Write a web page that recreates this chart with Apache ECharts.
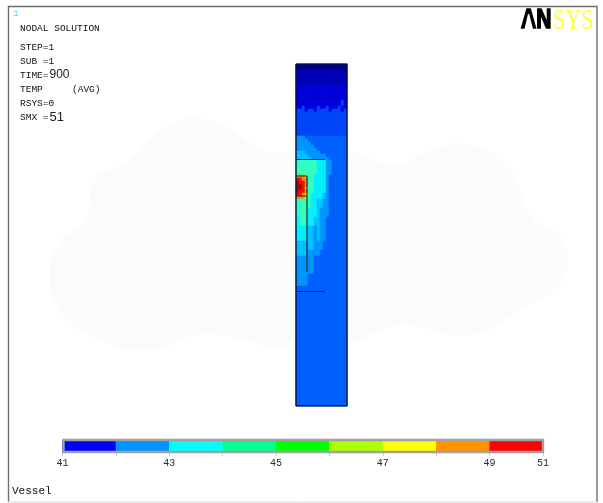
<!DOCTYPE html>
<html><head><meta charset="utf-8">
<style>html,body{margin:0;padding:0;background:#fff}#c{width:603px;height:503px;filter:blur(0.55px)}</style>
<script src="https://cdn.jsdelivr.net/npm/echarts@6/dist/echarts.min.js"></script>
</head><body><div id="c"></div>
<script>
// Temperature field: each row code string is 17 cells across the vessel; [repeat, cells]
const fieldRows = [
 [2,'aaaaaaaaaaaaaaaaa'],[5,'bbbbbbbbbbbbbbbbb'],[3,'ccccccccccccccccc'],
 [2,'ccccccbccccbccccc'],[2,'cccccccccccccccdc'],[1,'ccdccccdccdcccdcc'],[1,'dddcddcddddcdddcd'],
 [8,'ddddddddddddddddd'],
 [1,'fffeeeeeeeeeeeeee'],[1,'ffffeeeeeeeeeeeee'],[1,'fffffeeeeeeeeeeee'],[1,'ffffffeeeeeeeeeee'],
 [1,'fffffffeeeeeeeeee'],[1,'gggfffffeeeeeeeee'],[1,'ggggffffffeeeeeee'],[1,'gggggffffffeeeeee'],
 [5,'iiiiiiihhhffeeeee'],
 [1,'mmmliihhhhfeeeeee'],[1,'nnmmiihhhhfeeeeee'],[1,'onnmiihhhhfeeeeee'],[1,'oonmiihhhhfeeeeee'],
 [1,'oonliihhhhfeeeeee'],[1,'onnmiihhhhfeeeeee'],[1,'nnmlihhhhgfeeeeee'],[1,'mmmlihhhhgfeeeeee'],
 [3,'iiiiihhggffeeeeee'],[3,'iiiihhhgfffeeeeee'],
 [3,'hiiihhggffeeeeeee'],[5,'hhhhggfgffeeeeeee'],
 [3,'ggggggfffeeeeeeee'],[2,'ggggffffeeeeeeeee'],
 [6,'ffffffeeeeeeeeeee'],[4,'ffffeeeeeeeeeeeee'],
 [40,'eeeeeeeeeeeeeeeee']
];
const cellCodes = ['a','b','c','d','e','f','g','h','i','j','k','l','m','n','o'];
const cellTemps = [41.0,41.2,41.5,41.9,42.3,42.8,43.3,43.8,44.4,45.3,46.5,47.5,48.5,49.5,50.7];
const cellColors = ['#00008c','#0000b4','#0000dc','#0044f8','#0060fc','#0094ff','#00c0ff','#00f0ff','#30ffc0','#00ff40','#a8ff00','#ffd800','#ff8800','#f01000','#a80808'];
const barBands = ['41','42','43','44','45','46','47','48','49-51'];
const barValues = [41.5,42.5,43.5,44.5,45.5,46.5,47.5,48.5,50];
const barColors = ['#0000ff','#0094ff','#00ffff','#00ff94','#00ff00','#aaff00','#ffff00','#ff9400','#ff0000'];
const barTickLabels = ['41','','43','','45','','47','','49','51'];
const vesselOutline = [[0,0],[51,0],[51,342],[0,342],[0,0]];
const wallSegments = [
 [[0,95.5],[29,95.5]],
 [[0,112],[11,112],[11,208]],
 [[0,132],[11,132]],
 [[0,227.5],[29,227.5]]
];
const infoLines = ['STEP=1','SUB =1','TEMP','RSYS=0'];

const cols = fieldRows[0][1].length;
const rowCount = fieldRows.reduce((s,r)=>s+r[0],0);
const fieldData = [];
let rowIndex = 0;
fieldRows.forEach(([n,s])=>{
  for(let k=0;k<n;k++,rowIndex++){
    for(let i=0;i<cols;i++){ fieldData.push([i,rowIndex,cellTemps[cellCodes.indexOf(s[i])]]); }
  }
});
const seq = n => Array.from({length:n},(_,i)=>String(i));
const txt = (x,y,text,extra) => ({type:'text',x,y,z:20,style:Object.assign({text,fill:'#111',fontFamily:'Liberation Mono',fontSize:9.5,textVerticalAlign:'middle'},extra||{})});
const mixed = (y,a,b,size) => ({type:'text',x:20,y,z:20,style:{text:'{a|'+a+'}{b|'+b+'}',textVerticalAlign:'middle',rich:{
  a:{fontFamily:'Liberation Mono',fontSize:9.5,fill:'#111'},
  b:{fontFamily:'Liberation Sans',fontSize:size,fill:'#222',padding:[0,0,0,1]}}}});
const hiddenAxis = extra => Object.assign({show:false},extra);

const chart = echarts.init(document.getElementById('c'),null,{renderer:'canvas'});
chart.setOption({
  animation:false,
  backgroundColor:'#fff',
  grid:[
    {left:296,top:64,width:51,height:342},
    {left:296,top:64,width:51,height:342},
    {left:62.5,top:441,width:480.5,height:11}
  ],
  xAxis:[
    hiddenAxis({type:'category',gridIndex:0,data:seq(cols)}),
    hiddenAxis({type:'value',gridIndex:1,min:0,max:51}),
    hiddenAxis({type:'category',gridIndex:2,data:barBands}),
    {type:'category',gridIndex:2,boundaryGap:false,data:barTickLabels,position:'bottom',
     axisLine:{show:false},
     axisTick:{show:true,length:4,alignWithLabel:true,interval:0,lineStyle:{color:'#ccc'}},
     axisLabel:{interval:0,margin:6,color:'#2a2a2a',fontFamily:'Liberation Mono',fontSize:10,hideOverlap:false},splitLine:{show:false}}
  ],
  yAxis:[
    hiddenAxis({type:'category',gridIndex:0,inverse:true,data:seq(rowCount)}),
    hiddenAxis({type:'value',gridIndex:1,inverse:true,min:0,max:342}),
    hiddenAxis({type:'category',gridIndex:2,data:['bar']})
  ],
  visualMap:[
    {show:false,type:'piecewise',seriesIndex:0,pieces:cellTemps.map((t,i)=>({value:t,color:cellColors[i]}))},
    {show:false,type:'piecewise',seriesIndex:1,pieces:barValues.map((t,i)=>({value:t,color:barColors[i]}))}
  ],
  series:[
    {type:'heatmap',xAxisIndex:0,yAxisIndex:0,data:fieldData,silent:true,itemStyle:{borderWidth:0},progressive:0},
    {type:'heatmap',xAxisIndex:2,yAxisIndex:2,data:barValues.map((v,i)=>[i,0,v]),silent:true},
    {type:'line',xAxisIndex:1,yAxisIndex:1,data:vesselOutline,symbol:'none',z:5,silent:true,lineStyle:{color:'#00104a',width:1.4}},
    ...wallSegments.map(seg=>({type:'line',xAxisIndex:1,yAxisIndex:1,data:seg,symbol:'none',z:5,silent:true,lineStyle:{color:'#1b2a30',width:1.2}}))
  ],
  graphic:[
    // faint backdrop behind the vessel
    {type:'polygon',z:-10,silent:true,shape:{smooth:0.5,points:[[50,270],[62,240],[85,222],[95,180],[130,160],[170,124],[215,122],[262,150],[296,160],[296,335],[200,335],[150,350],[100,340],[60,310]]},style:{fill:'#fbfbfb'}},
    {type:'polygon',z:-10,silent:true,shape:{smooth:0.5,points:[[347,160],[400,165],[430,150],[470,145],[510,170],[530,215],[562,240],[562,280],[520,310],[470,335],[400,325],[347,335]]},style:{fill:'#fbfbfb'}},
    // picture frame
    {type:'polyline',silent:true,z:15,shape:{points:[[8.5,502],[8.5,6.5],[597,6.5],[597,502]]},style:{stroke:'#6e6e6e',lineWidth:1.4,fill:null}},
    {type:'line',silent:true,z:15,shape:{x1:8,y1:502,x2:597,y2:502},style:{stroke:'#d8d8d8',lineWidth:1}},
    // colour bar frame
    {type:'rect',silent:true,z:15,shape:{x:63.5,y:440,width:479.5,height:12},style:{fill:null,stroke:'#a0a0a0',lineWidth:2.4}},
    txt(13,13,'1',{fill:'#40e0f0'}),
    txt(20,28,'NODAL SOLUTION'),
    txt(20,47.5,infoLines[0]),
    txt(20,61,infoLines[1]),
    mixed(75,'TIME=','900',12),
    txt(20,89,infoLines[2]),
    txt(72,89,'(AVG)'),
    txt(20,103,infoLines[3]),
    mixed(117,'SMX =','51',13),
    txt(12,491,'Vessel',{fontSize:11}),
    // logo
    {type:'text',x:521,y:21,z:20,scaleX:0.78,style:{text:'AN',fill:'#000',stroke:'#000',lineWidth:1.6,fontFamily:'Liberation Sans',fontWeight:'bold',fontSize:27,textVerticalAlign:'middle'}},
    {type:'polygon',z:21,silent:true,shape:{points:[[528,14],[529.2,14],[533.5,31],[524,31]]},style:{fill:'#fff'}},
    {type:'text',x:553,y:21,z:20,scaleX:0.76,style:{text:'SYS',fill:'#ffff3c',fontFamily:'Liberation Serif',fontSize:29,textVerticalAlign:'middle'}}
  ]
});
</script></body></html>
